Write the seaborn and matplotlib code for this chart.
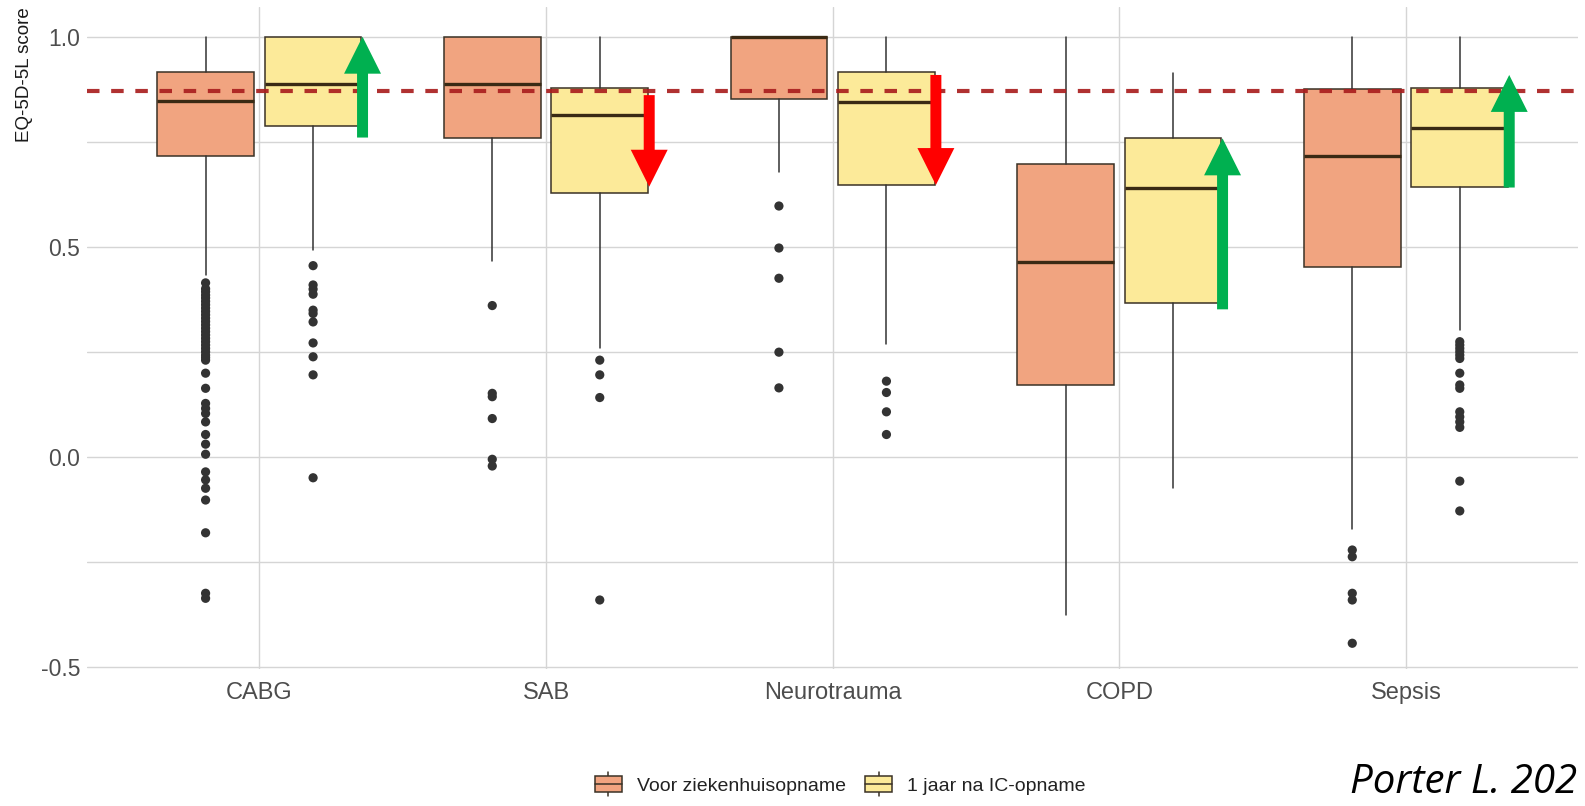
import matplotlib
matplotlib.use("Agg")
import matplotlib.pyplot as plt
import seaborn as sns
import pandas as pd
from matplotlib.legend_handler import HandlerBase
from matplotlib.patches import Rectangle, Patch
from matplotlib.lines import Line2D

categories = ["CABG", "SAB", "Neurotrauma", "COPD", "Sepsis"]
groups = ["Voor ziekenhuisopname", "1 jaar na IC-opname"]

# box statistics (EQ-5D-5L)
pre_whislo = [0.433, 0.466, 0.679, -0.377, -0.173]
pre_q1 = [0.716, 0.760, 0.851, 0.172, 0.452]
pre_med = [0.848, 0.887, 1.000, 0.464, 0.717]
pre_q3 = [0.915, 1.000, 1.000, 0.697, 0.876]
pre_whishi = [1.0, 1.0, 1.0, 1.0, 1.0]

post_whislo = [0.492, 0.260, 0.268, -0.075, 0.302]
post_q1 = [0.788, 0.629, 0.647, 0.367, 0.643]
post_med = [0.887, 0.813, 0.844, 0.641, 0.783]
post_q3 = [1.000, 0.879, 0.915, 0.758, 0.879]
post_whishi = [1.0, 1.0, 1.0, 0.913, 1.0]

# outliers
cabg_pre_out = [0.414, 0.400, 0.393, 0.385, 0.378, 0.370, 0.362, 0.354, 0.346,
                0.338, 0.330, 0.322, 0.314, 0.306, 0.298, 0.290, 0.282, 0.274,
                0.266, 0.258, 0.250, 0.242, 0.236, 0.230, 0.199, 0.163, 0.127,
                0.115, 0.103, 0.083, 0.053, 0.030, 0.006, -0.036, -0.055,
                -0.075, -0.103, -0.181, -0.325, -0.337]
cabg_post_out = [0.455, 0.409, 0.399, 0.387, 0.349, 0.341, 0.321, 0.271,
                 0.238, 0.195, -0.050]
sab_pre_out = [0.360, 0.151, 0.143, 0.091, -0.006, -0.022]
sab_post_out = [0.230, 0.195, 0.141, -0.341]
neuro_pre_out = [0.597, 0.497, 0.425, 0.249, 0.164]
neuro_post_out = [0.180, 0.153, 0.107, 0.053]
copd_pre_out = []
copd_post_out = []
sepsis_pre_out = [-0.222, -0.238, -0.325, -0.341, -0.444]
sepsis_post_out = [0.274, 0.266, 0.258, 0.250, 0.242, 0.234, 0.199, 0.171,
                   0.163, 0.107, 0.095, 0.083, 0.070, -0.058, -0.129]

pre_out = [cabg_pre_out, sab_pre_out, neuro_pre_out, copd_pre_out, sepsis_pre_out]
post_out = [cabg_post_out, sab_post_out, neuro_post_out, copd_post_out, sepsis_post_out]

reference_line = 0.871

# arrows added on top of the chart
arrow_start = [0.760, 0.861, 0.909, 0.351, 0.641]
arrow_end = [1.000, 0.643, 0.647, 0.758, 0.909]
arrow_color = ["#00B050", "#FF0000", "#FF0000", "#00B050", "#00B050"]

fill_colors = ["#F1A480", "#FCEA99"]
edge_color = "#3A3226"
offset = 0.1875
box_width = 0.3375

sns.set_theme(style="whitegrid")
plt.rcParams["font.family"] = ["Liberation Sans", "DejaVu Sans"]

fig = plt.figure(figsize=(15.85, 8.06), dpi=100)
ax = fig.add_axes([0.0551, 0.1696, 0.9405, 0.8213])
ax.set_facecolor("white")
ax.set_axisbelow(True)

for g, (lo, q1, med, q3, hi) in enumerate([
        (pre_whislo, pre_q1, pre_med, pre_q3, pre_whishi),
        (post_whislo, post_q1, post_med, post_q3, post_whishi)]):
    stats = [dict(whislo=lo[i], q1=q1[i], med=med[i], q3=q3[i], whishi=hi[i], fliers=[])
             for i in range(len(categories))]
    pos = [i + (2 * g - 1) * offset for i in range(len(categories))]
    ax.bxp(stats, positions=pos, widths=box_width, patch_artist=True,
           showcaps=False, showfliers=False, manage_ticks=False,
           boxprops=dict(facecolor=fill_colors[g], edgecolor=edge_color, linewidth=1.1),
           medianprops=dict(color="#3A2A14", linewidth=2.4, solid_capstyle="butt"),
           whiskerprops=dict(color="#333333", linewidth=1.1))

rows = []
for i, cat in enumerate(categories):
    for v in pre_out[i]:
        rows.append((cat, groups[0], i - offset, v))
    for v in post_out[i]:
        rows.append((cat, groups[1], i + offset, v))
fliers = pd.DataFrame(rows, columns=["category", "group", "xpos", "value"])

sns.scatterplot(data=fliers, x="xpos", y="value", color="#333333", s=44,
                edgecolor="none", legend=False, ax=ax, zorder=3)

ax.axhline(reference_line, color="#AA1F1F", linewidth=3, alpha=0.92,
           linestyle=(0, (3.0, 2.8)), zorder=4)

for i in range(len(categories)):
    ax.annotate("", xy=(i + 0.36, arrow_end[i]), xytext=(i + 0.36, arrow_start[i]),
                arrowprops=dict(arrowstyle="simple,head_length=26.6,head_width=26.6,tail_width=7.9",
                                mutation_scale=1, color=arrow_color[i], lw=0,
                                shrinkA=0, shrinkB=0),
                zorder=5)

ax.set_xlim(-0.6, 4.6)
ax.set_ylim(-0.506, 1.070)
ax.set_xticks(range(len(categories)))
ax.set_xticklabels(categories)
ax.set_yticks([-0.5, 0.0, 0.5, 1.0])
ax.set_yticklabels(["-0.5", "0.0", "0.5", "1.0"])
ax.set_yticks([-0.25, 0.25, 0.75], minor=True)
ax.grid(which="both", axis="y", color="#D5D5D5", linewidth=1.0)
ax.grid(which="major", axis="x", color="#D5D5D5", linewidth=1.0)
ax.tick_params(axis="both", which="both", length=0, labelcolor="#4D4D4D")
ax.tick_params(axis="y", labelsize=16.5, pad=5)
ax.tick_params(axis="x", labelsize=17, pad=9)
for s in ax.spines.values():
    s.set_visible(False)
ax.set_xlabel("")
ax.set_ylabel("EQ-5D-5L score", loc="top", fontsize=13.5, color="#1A1A1A")
ax.yaxis.set_label_coords(-0.0364, 1.0)


class BoxKey(HandlerBase):
    def create_artists(self, legend, orig_handle, xdescent, ydescent,
                       width, height, fontsize, trans):
        x0, y0 = -xdescent, -ydescent
        cx = x0 + width / 2
        bh = height * 0.64
        by = y0 + (height - bh) / 2
        rect = Rectangle((x0, by), width, bh, facecolor=orig_handle.get_facecolor(),
                         edgecolor=edge_color, linewidth=1.1, transform=trans)
        med = Line2D([x0, x0 + width], [by + bh / 2] * 2, color=edge_color,
                     linewidth=1.1, transform=trans)
        w1 = Line2D([cx, cx], [y0, by], color=edge_color,
                    linewidth=1.1, transform=trans)
        w2 = Line2D([cx, cx], [by + bh, y0 + height], color=edge_color,
                    linewidth=1.1, transform=trans)
        return [w1, w2, rect, med]


handles = [Patch(facecolor=c) for c in fill_colors]
fig.legend(handles, groups, loc="center", bbox_to_anchor=(0.530, 0.027),
           ncol=2, frameon=False, fontsize=14, handlelength=1.4,
           handleheight=1.55, handletextpad=0.75, columnspacing=1.0,
           handler_map={Patch: BoxKey()}, labelcolor="#222222")

fig.text(0.995, 0.004, "Porter L. 202", fontsize=29, style="italic",
         family="Open Sans", color="black", ha="right", va="bottom")

fig.savefig("out.png", dpi=100)
